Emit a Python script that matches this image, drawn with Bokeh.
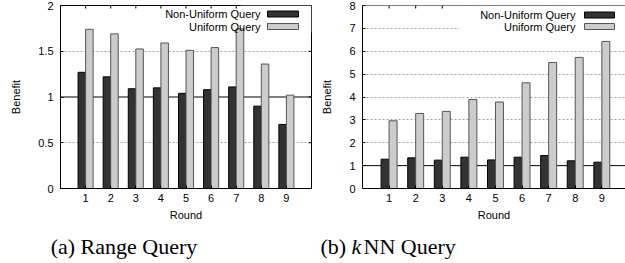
from bokeh.plotting import figure
from bokeh.layouts import column, row
from bokeh.models import Range1d, FixedTicker, NumeralTickFormatter, Span
from bokeh.embed import file_html
from bokeh.resources import INLINE
from bokeh.core.properties import value

# ---------------- data ----------------
rounds = [1, 2, 3, 4, 5, 6, 7, 8, 9]
series_names = ["Non-Uniform Query", "Uniform Query"]

range_nonuniform = [1.27, 1.22, 1.09, 1.10, 1.04, 1.08, 1.11, 0.90, 0.70]
range_uniform = [1.74, 1.69, 1.525, 1.59, 1.51, 1.54, 1.745, 1.36, 1.02]

knn_nonuniform = [1.28, 1.34, 1.24, 1.37, 1.25, 1.37, 1.44, 1.21, 1.15]
knn_uniform = [2.96, 3.28, 3.37, 3.89, 3.78, 4.62, 5.51, 5.73, 6.43]

range_yticks = [0, 0.5, 1, 1.5, 2]
knn_yticks = [0, 1, 2, 3, 4, 5, 6, 7, 8]
baseline = 1

x_label = "Round"
y_label = "Benefit"
caption_a = ["(a) Range Query"]
caption_b = ["(b) ", "k", "NN Query"]

# ---------------- style ----------------
SANS = "Liberation Sans"
SERIF = "Liberation Serif"
DARK_FILL, DARK_LINE = "#333333", "#000000"
LIGHT_FILL, LIGHT_LINE = "#cccccc", "#555555"
FIG_H = 225
BORDER_TOP = 5
BORDER_BOTTOM = 37
FRAME_H = FIG_H - BORDER_TOP - BORDER_BOTTOM
BAR_W = 0.3
TICK = 3


def make_panel(nonuni, uni, yticks, width, border_left, border_right, xmax,
               legend_px, right_outline=True):
    ymax = yticks[-1]
    frame_w = width - border_left - border_right
    pxx = frame_w / xmax
    pxy = FRAME_H / ymax

    p = figure(width=width, height=FIG_H, output_backend="svg", toolbar_location=None,
               x_range=Range1d(0, xmax), y_range=Range1d(0, ymax),
               min_border_left=border_left, min_border_right=border_right,
               min_border_top=BORDER_TOP, min_border_bottom=BORDER_BOTTOM,
               background_fill_color="white", border_fill_color="white")
    p.outline_line_color = "black" if right_outline else None

    # axes
    p.xaxis.ticker = FixedTicker(ticks=rounds)
    p.yaxis.ticker = FixedTicker(ticks=yticks)
    p.yaxis.formatter = NumeralTickFormatter(format="0.[0]")
    for ax in (p.xaxis[0], p.yaxis[0]):
        ax.major_tick_in = TICK
        ax.major_tick_out = 0
        ax.minor_tick_line_color = None
        ax.axis_line_color = "black"
        ax.major_tick_line_color = "black"
        ax.major_label_text_font = SANS
        ax.major_label_text_font_size = "11px"
        ax.major_label_text_color = "black"
        ax.axis_label_text_font = SANS
        ax.axis_label_text_font_size = "11px"
        ax.axis_label_text_font_style = "normal"
        ax.axis_label_text_color = "black"
    p.xaxis.axis_label = x_label
    p.yaxis.axis_label = y_label
    p.xaxis.major_label_standoff = 5
    p.xaxis.axis_label_standoff = 4
    p.yaxis.major_label_standoff = 7
    p.yaxis.axis_label_standoff = 13

    # grid
    p.xgrid.visible = False
    p.ygrid.ticker = FixedTicker(ticks=[t for t in yticks if t not in (0, ymax, baseline)])
    p.ygrid.grid_line_color = "#a0a0a0"
    p.ygrid.grid_line_dash = "2 2"
    p.ygrid.grid_line_width = 1
    p.add_layout(Span(location=baseline, dimension="width", line_color="black",
                      line_width=1, level="underlay"))

    # top border line (the outline is off for the clipped right panel)
    if not right_outline:
        p.add_layout(Span(location=ymax, dimension="width", line_color="black", line_width=1))

    # mirrored inward ticks (top, and right when the right edge is visible)
    p.segment(x0=rounds, x1=rounds, y0=[ymax] * len(rounds),
              y1=[ymax - TICK / pxy] * len(rounds), line_color="black", line_width=1)
    if right_outline:
        inner = yticks[1:-1]
        p.segment(x0=[xmax] * len(inner), x1=[xmax - TICK / pxx] * len(inner),
                  y0=inner, y1=inner, line_color="black", line_width=1)

    # legend background
    p.quad(left=[legend_px["bg_left"] / pxx], right=[xmax],
           bottom=[ymax - legend_px["bg_bottom"] / pxy], top=[ymax],
           fill_color="white", line_color=None)

    # bars
    p.vbar(x=[r - BAR_W / 2 for r in rounds], top=nonuni, bottom=0, width=BAR_W,
           fill_color=DARK_FILL, line_color=DARK_LINE, line_width=1)
    p.vbar(x=[r + BAR_W / 2 for r in rounds], top=uni, bottom=0, width=BAR_W,
           fill_color=LIGHT_FILL, line_color=LIGHT_LINE, line_width=1)

    # legend (gnuplot style: text right-aligned, key sample on the right)
    rows = legend_px["rows"]
    p.text(x=[legend_px["text_right"] / pxx] * 2,
           y=[ymax - r / pxy for r in rows],
           text=series_names, text_align="right", text_baseline="middle",
           text_font=value(SANS), text_font_size="11px", text_color="black")
    half = legend_px["box_h"] / 2
    p.quad(left=[legend_px["box_left"] / pxx], right=[legend_px["box_right"] / pxx],
           bottom=[ymax - (rows[0] + half) / pxy], top=[ymax - (rows[0] - half) / pxy],
           fill_color=DARK_FILL, line_color=DARK_LINE)
    p.quad(left=[legend_px["box_left"] / pxx], right=[legend_px["box_right"] / pxx],
           bottom=[ymax - (rows[1] + half) / pxy], top=[ymax - (rows[1] - half) / pxy],
           fill_color=LIGHT_FILL, line_color=LIGHT_LINE)
    return p


p1 = make_panel(range_nonuniform, range_uniform, range_yticks,
                width=312, border_left=60, border_right=1, xmax=10,
                legend_px=dict(text_right=200, box_left=207, box_right=238, box_h=6,
                               rows=[8.5, 21], bg_left=180, bg_bottom=27))

p2 = make_panel(knn_nonuniform, knn_uniform, knn_yticks,
                width=313, border_left=50, border_right=0, xmax=9.89,
                legend_px=dict(text_right=213, box_left=222, box_right=252, box_h=6,
                               rows=[9.5, 21], bg_left=97, bg_bottom=27),
                right_outline=False)

# ---------------- captions ----------------
CAP_W, CAP_H = 625, 38
cap = figure(width=CAP_W, height=CAP_H, output_backend="svg", toolbar_location=None,
             x_range=Range1d(0, CAP_W), y_range=Range1d(0, CAP_H),
             min_border=0, background_fill_color="white", border_fill_color="white")
cap.axis.visible = False
cap.grid.visible = False
cap.outline_line_color = None
cap_y = CAP_H - 20.5
cap.text(x=[123.5], y=[cap_y], text=caption_a, text_align="center", text_baseline="middle",
         text_font=value(SERIF), text_font_size="22px", text_color="black")
cap.text(x=[320, 351, 363], y=[cap_y] * 3, text=caption_b, text_align="left",
         text_baseline="middle", text_font=value(SERIF), text_font_size="22px",
         text_color="black", text_font_style=["normal", "italic", "normal"])

layout = column(row(p1, p2), cap)
open("out.html", "w").write(file_html(layout, INLINE))
